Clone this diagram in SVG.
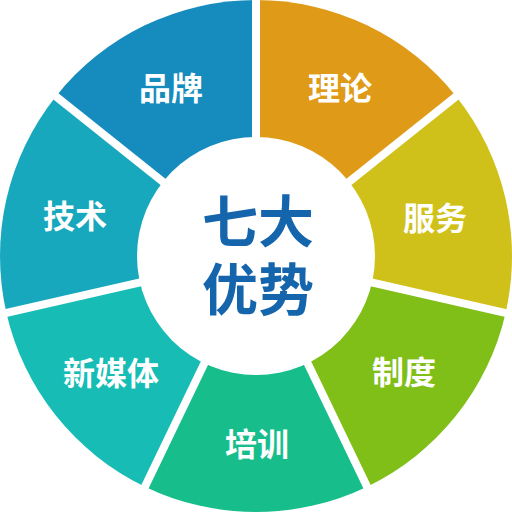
<svg xmlns="http://www.w3.org/2000/svg" width="512" height="512" viewBox="0 0 512 512">
<style>
.lbl{font-family:"Noto Sans CJK SC","Noto Sans",sans-serif;font-weight:700;font-size:32px;fill:#ffffff;text-anchor:middle}
.ctr{font-family:"Noto Sans CJK SC","Noto Sans",sans-serif;font-weight:700;font-size:56px;fill:#1565ad;text-anchor:middle}
.sep{stroke:#ffffff;stroke-width:8;fill:none}
</style>
<rect width="512" height="512" fill="#ffffff"/>
<g id="lilun">
<path d="M256,256 L256,0 A256,256 0 0 1 456.15,96.39 Z" fill="#df9a17"/>
<text class="lbl" x="340" y="100">理论</text>
</g>
<g id="fuwu">
<path d="M256,256 L456.15,96.39 A256,256 0 0 1 505.58,312.97 Z" fill="#d0c11a"/>
<text class="lbl" x="435" y="230">服务</text>
</g>
<g id="zhidu">
<path d="M256,256 L505.58,312.97 A256,256 0 0 1 367.07,486.65 Z" fill="#80be18"/>
<text class="lbl" x="404" y="384">制度</text>
</g>
<g id="peixun">
<path d="M256,256 L367.07,486.65 A256,256 0 0 1 144.93,486.65 Z" fill="#17be8c"/>
<text class="lbl" x="257" y="456">培训</text>
</g>
<g id="xinmeiti">
<path d="M256,256 L144.93,486.65 A256,256 0 0 1 6.42,312.97 Z" fill="#17bdb4"/>
<text class="lbl" x="111" y="385">新媒体</text>
</g>
<g id="jishu">
<path d="M256,256 L6.42,312.97 A256,256 0 0 1 55.85,96.39 Z" fill="#17a8bd"/>
<text class="lbl" x="75" y="228">技术</text>
</g>
<g id="pinpai">
<path d="M256,256 L55.85,96.39 A256,256 0 0 1 256,0 Z" fill="#168bbe"/>
<text class="lbl" x="171" y="100">品牌</text>
</g>
<g id="separators">
<line class="sep" x1="256" y1="256" x2="256" y2="-10"/>
<line class="sep" x1="256" y1="256" x2="463.97" y2="90.15"/>
<line class="sep" x1="256" y1="256" x2="515.33" y2="315.20"/>
<line class="sep" x1="256" y1="256" x2="371.41" y2="495.66"/>
<line class="sep" x1="256" y1="256" x2="140.59" y2="495.66"/>
<line class="sep" x1="256" y1="256" x2="-3.33" y2="315.20"/>
<line class="sep" x1="256" y1="256" x2="48.03" y2="90.15"/>
</g>
<g id="center">
<circle cx="256" cy="256" r="119" fill="#ffffff"/>
<text class="ctr"><tspan x="258" y="242">七大</tspan><tspan x="258" y="310">优势</tspan></text>
</g>
</svg>
